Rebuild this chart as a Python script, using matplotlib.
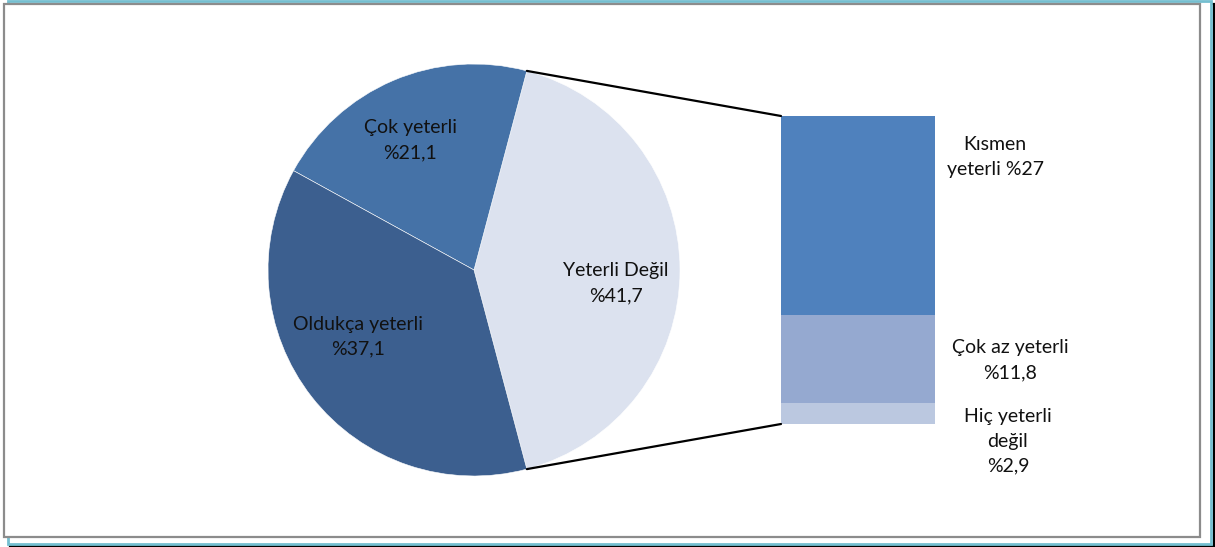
import matplotlib
matplotlib.use("Agg")
import matplotlib.pyplot as plt
from matplotlib.patches import Rectangle, ConnectionPatch
import numpy as np

# Main pie: share of answers
pie_labels = ["Yeterli Değil", "Çok yeterli", "Oldukça yeterli"]
pie_values = [41.7, 21.1, 37.1]
pie_colors = ["#DCE2EF", "#4572A7", "#3C5F8F"]

# Breakdown of "Yeterli Değil" (top to bottom in the bar)
bar_labels = ["Kısmen\nyeterli %27", "Çok az yeterli\n%11,8", "Hiç yeterli\ndeğil\n%2,9"]
bar_values = [27, 11.8, 2.9]
bar_colors = ["#4F81BD", "#95A9D0", "#BBC8E0"]

W, H = 1215, 547
fig = plt.figure(figsize=(W / 100, H / 100), dpi=100)
plt.rcParams["font.family"] = ["Lato", "DejaVu Sans"]
FS = 14
LS = 1.56
TXT = "#111111"


def fx(px):
    return px / W


def fy(py):
    return 1 - py / H


# Frame: cyan outer box, black shadow, gray inner box
frame = fig.add_axes([0, 0, 1, 1])
frame.set_xlim(0, W)
frame.set_ylim(H, 0)
frame.axis("off")
frame.add_patch(Rectangle((10, 4), 1203.5, 542, facecolor="none", edgecolor="black", lw=1.6))
frame.add_patch(Rectangle((8, 1.2), 1202.5, 542.5, facecolor="white", edgecolor="#74BFD0", lw=2.0))
frame.add_patch(Rectangle((4.3, 3.8), 1196, 533, facecolor="white", edgecolor="#8C8C8C", lw=1.6))

# Pie
cx, cy, r = 474, 270, 206
pax = fig.add_axes([fx(cx - r), fy(cy + r), 2 * r / W, 2 * r / H])
half = 360 * pie_values[0] / sum(pie_values) / 2
wedges, _ = pax.pie(pie_values, colors=pie_colors, startangle=-half, counterclock=True,
                    radius=1, wedgeprops=dict(edgecolor="white", linewidth=0.4))
pax.set_xlim(-1, 1)
pax.set_ylim(-1, 1)
pax.axis("off")

pie_text_pos = [(0.69, -0.063), (-0.31, 0.63), (-0.563, -0.325)]
pie_texts = ["Yeterli Değil\n%41,7", "Çok yeterli\n%21,1", "Oldukça yeterli\n%37,1"]
for (tx, ty), t in zip(pie_text_pos, pie_texts):
    pax.text(tx, ty, t, ha="center", va="center", fontsize=FS, color=TXT, linespacing=LS)

# Stacked bar for the breakdown
bx0, bx1, by0, by1 = 781, 935, 116, 424
bax = fig.add_axes([fx(bx0), fy(by1), (bx1 - bx0) / W, (by1 - by0) / H])
total = sum(bar_values)
bottom = total
for v, c in zip(bar_values, bar_colors):
    bottom -= v
    bax.bar(0, v, bottom=bottom, width=1.0, color=c, edgecolor="none")
bax.set_xlim(-0.5, 0.5)
bax.set_ylim(0, total)
bax.axis("off")

# Connector lines from the pie slice edges to the bar corners
for ang, ybar in [(half, total), (-half, 0)]:
    a = np.deg2rad(ang)
    con = ConnectionPatch(xyA=(np.cos(a), np.sin(a)), coordsA=pax.transData,
                          xyB=(-0.5, ybar), coordsB=bax.transData,
                          color="black", lw=1.6)
    fig.add_artist(con)

# Bar labels
bar_text_pos = [(995, 157), (1010, 360), (1008, 441)]
for (tx, ty), t in zip(bar_text_pos, bar_labels):
    fig.text(fx(tx), fy(ty), t, ha="center", va="center", fontsize=FS, color=TXT, linespacing=LS)

fig.savefig("out.png", dpi=100)
